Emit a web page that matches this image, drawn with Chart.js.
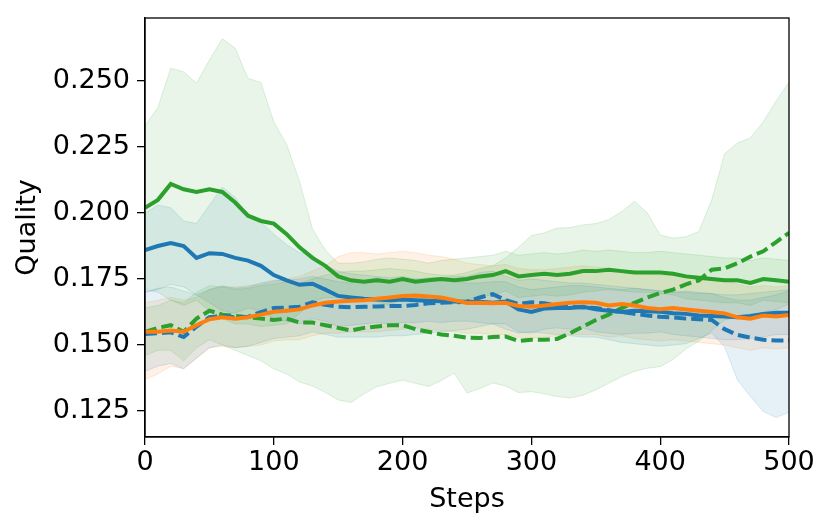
<!DOCTYPE html>
<html>
<head>
<meta charset="utf-8">
<script src="https://cdn.jsdelivr.net/npm/chart.js"></script>
<style>
  html, body { margin: 0; padding: 0; background: #fff; }
  #chart { display: block; }
</style>
</head>
<body>
<canvas id="chart" width="830" height="529"></canvas>
<script>
// steps 0..500, every 10
const steps = [0,10,20,30,40,50,60,70,80,90,100,110,120,130,140,150,160,170,180,190,200,
  210,220,230,240,250,260,270,280,290,300,310,320,330,340,350,360,370,380,390,400,
  410,420,430,440,450,460,470,480,490,500];

const yTicks = [0.125, 0.150, 0.175, 0.200, 0.225, 0.250];
const xTicks = [0, 100, 200, 300, 400, 500];

// blue solid
const blueSolid = [0.186,0.1875,0.1886,0.1875,0.183,0.1848,0.1845,0.183,0.182,0.180,0.1765,
  0.1745,0.1728,0.1732,0.171,0.1686,0.168,0.1675,0.1672,0.167,0.1672,
  0.167,0.1668,0.1666,0.1665,0.1664,0.1664,0.166,0.1665,0.1635,0.1625,
  0.1638,0.164,0.164,0.1645,0.1635,0.163,0.1625,0.163,0.1628,0.1626,
  0.162,0.1618,0.1612,0.161,0.1608,0.1605,0.161,0.1618,0.1622,0.1622];
const blueSolidHi = [0.200,0.203,0.202,0.197,0.196,0.203,0.2098,0.206,0.199,0.1966,0.192,
  0.188,0.185,0.184,0.180,0.178,0.177,0.1765,0.176,0.1755,0.176,
  0.175,0.1745,0.1745,0.174,0.1735,0.1735,0.174,0.174,0.172,0.171,
  0.1715,0.172,0.1725,0.1725,0.172,0.1715,0.171,0.1715,0.171,0.1705,
  0.170,0.1705,0.170,0.1695,0.169,0.169,0.1695,0.170,0.1705,0.171];
const blueSolidLo = [0.170,0.171,0.173,0.172,0.169,0.166,0.163,0.162,0.164,0.163,0.160,
  0.159,0.158,0.160,0.159,0.157,0.1575,0.158,0.1585,0.158,0.1585,
  0.1585,0.159,0.1585,0.159,0.159,0.1585,0.158,0.158,0.155,0.1545,
  0.156,0.1565,0.156,0.1565,0.155,0.1545,0.154,0.1545,0.1545,0.155,
  0.154,0.1535,0.153,0.1525,0.152,0.152,0.1525,0.153,0.154,0.154];

// blue dashed
const blueDash = [0.1542,0.1545,0.1548,0.153,0.157,0.1605,0.161,0.1605,0.1607,0.1625,0.164,
  0.1642,0.1645,0.1662,0.1652,0.1645,0.1643,0.1645,0.1646,0.1648,0.1648,
  0.1652,0.1658,0.166,0.1662,0.1664,0.168,0.1693,0.167,0.1655,0.1662,
  0.1658,0.165,0.1645,0.1642,0.164,0.1632,0.1625,0.1618,0.1612,0.1607,
  0.1605,0.160,0.1598,0.1595,0.156,0.1538,0.1528,0.152,0.1517,0.1517];
const blueDashHi = [0.170,0.1715,0.172,0.1705,0.169,0.171,0.1725,0.1715,0.172,0.1735,0.1745,
  0.1745,0.175,0.176,0.175,0.174,0.1735,0.1745,0.1755,0.1745,0.1745,
  0.175,0.1755,0.1755,0.176,0.176,0.1775,0.178,0.176,0.1745,0.175,
  0.1745,0.174,0.1735,0.1735,0.173,0.1725,0.172,0.1715,0.171,0.1705,
  0.170,0.170,0.1695,0.1695,0.168,0.167,0.167,0.168,0.169,0.1705];
const blueDashLo = [0.140,0.142,0.143,0.141,0.145,0.149,0.150,0.149,0.1495,0.151,0.1525,
  0.153,0.1535,0.155,0.154,0.153,0.153,0.153,0.153,0.1535,0.1535,
  0.154,0.1545,0.155,0.1555,0.156,0.157,0.158,0.156,0.1545,0.155,
  0.1545,0.154,0.1535,0.153,0.153,0.152,0.151,0.1505,0.150,0.1495,
  0.150,0.1505,0.1525,0.1545,0.1493,0.1367,0.1305,0.1248,0.1225,0.1245];

// orange solid
const orangeSolid = [0.155,0.155,0.1555,0.155,0.1575,0.1598,0.1605,0.160,0.1605,0.1615,0.1626,
  0.163,0.1635,0.165,0.166,0.1665,0.1668,0.167,0.1675,0.168,0.1686,
  0.1688,0.1684,0.168,0.167,0.1659,0.166,0.1658,0.166,0.1648,0.1645,
  0.165,0.1655,0.166,0.1662,0.166,0.165,0.1655,0.165,0.164,0.1636,
  0.164,0.1635,0.163,0.1625,0.162,0.1605,0.160,0.1612,0.1608,0.1614];
const orangeHi = [0.166,0.167,0.168,0.167,0.168,0.171,0.172,0.172,0.1725,0.173,0.174,
  0.175,0.176,0.178,0.180,0.1835,0.185,0.185,0.1845,0.185,0.1855,
  0.185,0.184,0.1835,0.1825,0.181,0.1805,0.180,0.1805,0.179,0.1785,
  0.1785,0.179,0.1795,0.180,0.1795,0.179,0.1785,0.178,0.177,0.1765,
  0.1765,0.176,0.1755,0.175,0.1745,0.173,0.172,0.1725,0.172,0.1725];
const orangeLo = [0.137,0.139,0.142,0.141,0.145,0.149,0.1495,0.149,0.1495,0.150,0.1515,
  0.152,0.152,0.1535,0.1545,0.1545,0.155,0.155,0.155,0.1555,0.156,
  0.1565,0.156,0.1555,0.155,0.1545,0.1545,0.154,0.154,0.153,0.1525,
  0.153,0.1535,0.154,0.154,0.154,0.153,0.1535,0.1525,0.152,0.1515,
  0.152,0.1515,0.151,0.1505,0.150,0.149,0.148,0.149,0.1485,0.149];

// green solid
const greenSolid = [0.202,0.205,0.211,0.209,0.208,0.209,0.208,0.204,0.199,0.197,0.196,
  0.192,0.187,0.183,0.180,0.176,0.1745,0.174,0.1745,0.174,0.175,
  0.174,0.1745,0.175,0.1745,0.175,0.176,0.1765,0.178,0.176,0.1765,
  0.177,0.1765,0.177,0.178,0.178,0.1785,0.178,0.1775,0.1775,0.1775,
  0.177,0.176,0.1755,0.175,0.1745,0.1745,0.1735,0.175,0.1745,0.174];
const greenSolidHi = [0.233,0.240,0.2549,0.2535,0.2492,0.258,0.266,0.2625,0.251,0.2495,0.2345,
  0.226,0.212,0.194,0.186,0.181,0.181,0.1815,0.1825,0.183,0.1825,
  0.182,0.181,0.182,0.1825,0.183,0.1835,0.184,0.1855,0.184,0.1845,
  0.185,0.1845,0.185,0.186,0.1855,0.186,0.1855,0.185,0.185,0.1855,
  0.185,0.1845,0.184,0.1835,0.183,0.183,0.182,0.183,0.1825,0.182];
const greenSolidLo = [0.171,0.170,0.167,0.165,0.167,0.163,0.160,0.158,0.158,0.157,0.1575,
  0.158,0.162,0.1665,0.168,0.168,0.1675,0.1665,0.1665,0.165,0.1675,
  0.1665,0.168,0.168,0.1665,0.167,0.1685,0.169,0.1705,0.168,0.1685,
  0.169,0.1685,0.169,0.170,0.1705,0.171,0.1705,0.170,0.170,0.1695,
  0.169,0.1675,0.167,0.1665,0.166,0.166,0.165,0.167,0.1665,0.166];

// green dashed
const greenDash = [0.155,0.1565,0.1575,0.155,0.160,0.163,0.1615,0.161,0.1605,0.160,0.1595,
  0.160,0.1585,0.1585,0.1575,0.1565,0.1555,0.1565,0.157,0.1575,0.1575,
  0.156,0.155,0.154,0.1535,0.1528,0.1527,0.153,0.1532,0.1515,0.152,
  0.152,0.1523,0.1545,0.157,0.1595,0.1615,0.164,0.166,0.168,0.1697,
  0.171,0.173,0.1745,0.1785,0.179,0.181,0.1835,0.1855,0.189,0.1925];
const greenDashHi = [0.164,0.165,0.167,0.166,0.170,0.1725,0.172,0.171,0.1715,0.1725,0.173,
  0.174,0.1735,0.175,0.1765,0.1775,0.178,0.178,0.1785,0.179,0.1785,
  0.178,0.177,0.1765,0.1765,0.1775,0.179,0.180,0.183,0.187,0.1915,
  0.1925,0.1943,0.1945,0.1955,0.196,0.1975,0.2005,0.2045,0.200,0.1917,
  0.1905,0.191,0.193,0.205,0.2225,0.2265,0.2285,0.2345,0.2425,0.2496];
const greenDashLo = [0.146,0.148,0.148,0.144,0.149,0.152,0.150,0.148,0.146,0.144,0.141,
  0.139,0.136,0.1345,0.132,0.1292,0.1282,0.1315,0.1342,0.1355,0.1367,
  0.1355,0.1343,0.1365,0.1394,0.1318,0.1335,0.1356,0.1345,0.132,0.1323,
  0.1315,0.1305,0.1299,0.131,0.133,0.1355,0.138,0.140,0.1412,0.1418,
  0.1445,0.1485,0.1515,0.1555,0.1595,0.1605,0.161,0.1625,0.1635,0.1655];

const blue = '31,119,180';
const orange = '255,127,14';
const green = '44,160,44';

function band(hi, lo, rgb) {
  return [
    { data: hi, borderColor: `rgba(${rgb},0.15)`, borderWidth: 1, backgroundColor: 'transparent',
      fill: false, pointRadius: 0, order: 5 },
    { data: lo, borderColor: `rgba(${rgb},0.15)`, borderWidth: 1, backgroundColor: `rgba(${rgb},0.11)`,
      fill: '-1', pointRadius: 0, order: 5 }
  ];
}

function line(values, rgb, dashed, order) {
  return { data: values, borderColor: `rgb(${rgb})`, borderWidth: 4,
    borderDash: dashed ? [12, 5] : [], fill: false, pointRadius: 0, order: order };
}

const datasets = [
  ...band(greenSolidHi, greenSolidLo, green),
  ...band(greenDashHi, greenDashLo, green),
  ...band(blueSolidHi, blueSolidLo, blue),
  ...band(blueDashHi, blueDashLo, blue),
  ...band(orangeHi, orangeLo, orange),
  line(greenSolid, green, false, 4),
  line(greenDash, green, true, 4),
  line(blueSolid, blue, false, 3),
  line(blueDash, blue, true, 2),
  line(orangeSolid, orange, false, 1)
];

datasets.forEach(ds => {
  ds.data = ds.data.map((v, i) => ({ x: steps[i], y: v }));
});

// matplotlib-style closed frame
const frame = {
  id: 'frame',
  afterDraw(chart) {
    const { ctx, chartArea: a } = chart;
    ctx.save();
    ctx.strokeStyle = '#000';
    ctx.lineWidth = 1.3;
    ctx.strokeRect(a.left, a.top, a.right - a.left, a.bottom - a.top);
    ctx.restore();
  }
};

const font = { family: 'DejaVu Sans', size: 27 };

new Chart(document.getElementById('chart').getContext('2d'), {
  type: 'line',
  data: { datasets },
  options: {
    responsive: false,
    animation: false,
    devicePixelRatio: 1,
    layout: { padding: { left: 0, right: 41, top: 18, bottom: 0 } },
    plugins: { legend: { display: false }, tooltip: { enabled: false } },
    elements: { line: { tension: 0 } },
    scales: {
      x: {
        type: 'linear', min: 0, max: 500,
        afterBuildTicks: s => { s.ticks = xTicks.map(v => ({ value: v })); },
        afterFit: s => { s.height = 92; },
        ticks: { color: '#000', font, padding: 2, maxRotation: 0 },
        grid: { drawOnChartArea: false, tickLength: 8, color: '#000', lineWidth: 1.3 },
        border: { color: '#000', width: 1.3 },
        title: { display: true, text: 'Steps', color: '#000', font, padding: { top: 0, bottom: 13 } }
      },
      y: {
        type: 'linear', min: 0.11515, max: 0.2739,
        afterBuildTicks: s => { s.ticks = yTicks.map(v => ({ value: v })); },
        afterFit: s => { s.width = 145; s.paddingTop = 0; s.paddingBottom = 0; },
        ticks: { color: '#000', font, padding: 7, callback: v => v.toFixed(3) },
        grid: { drawOnChartArea: false, tickLength: 8, color: '#000', lineWidth: 1.3 },
        border: { color: '#000', width: 1.3 },
        title: { display: true, text: 'Quality', color: '#000', font, padding: { top: 12, bottom: 0 } }
      }
    }
  },
  plugins: [frame]
});
</script>
</body>
</html>
